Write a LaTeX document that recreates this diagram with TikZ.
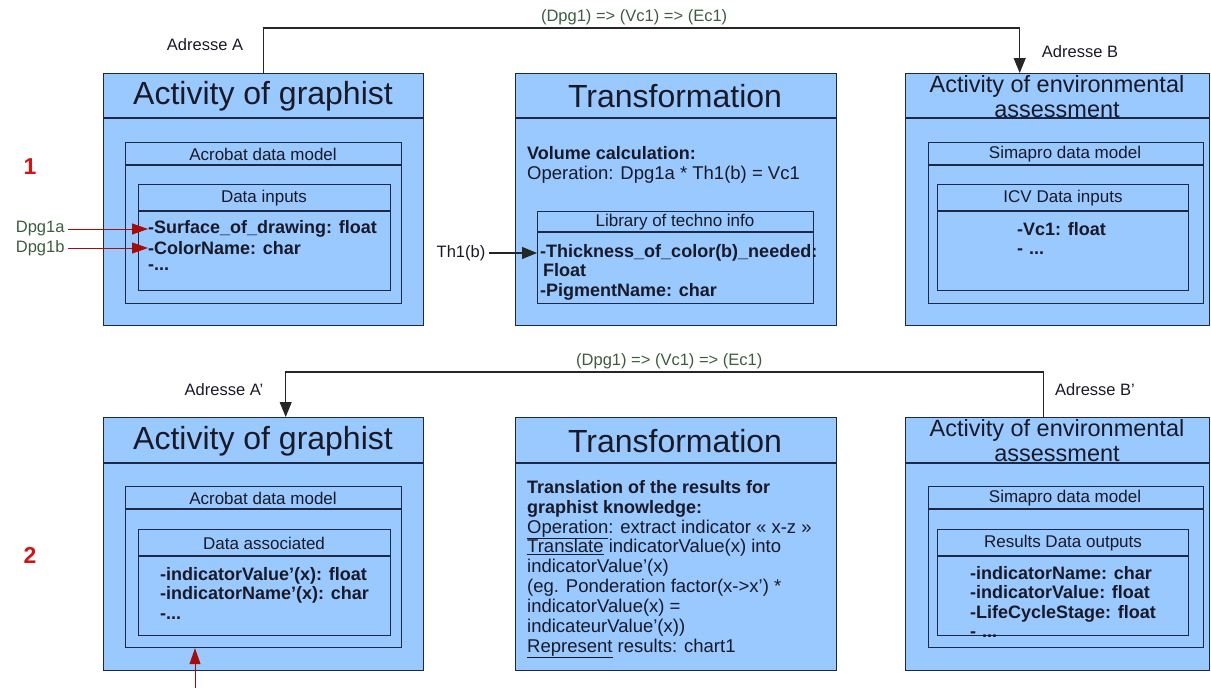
\documentclass[tikz,border=0pt]{standalone}
\usepackage{fontspec}
\setmainfont{Liberation Sans}
\usepackage{xcolor}
\usetikzlibrary{arrows.meta, positioning}

\definecolor{boxfill}{RGB}{153,201,255}
\definecolor{boxline}{RGB}{28,40,70}
\definecolor{txtdark}{RGB}{25,25,40}
\definecolor{darkred}{RGB}{165,12,12}
\definecolor{numred}{RGB}{210,20,20}
\definecolor{labgreen}{RGB}{62,92,62}

\begin{document}
\begin{tikzpicture}[
  x=1pt, y=-1pt,
  classbox/.style={rectangle, draw=boxline, fill=boxfill, line width=1.4pt, anchor=north west, inner sep=0pt},
  innerbox/.style={rectangle, draw=boxline, fill=boxfill, line width=1.2pt, anchor=north west, inner sep=0pt},
  sep/.style={draw=boxline, line width=1.2pt},
  title/.style={font=\fontsize{32}{34}\selectfont, text=txtdark},
  subtitle/.style={font=\fontsize{23.5}{25}\selectfont, align=center, text=txtdark},
  head/.style={font=\fontsize{17}{19}\selectfont, text=txtdark},
  attr/.style={font=\fontsize{18}{19.5}\selectfont\bfseries, align=left, inner sep=0pt, text=txtdark},
  body/.style={font=\fontsize{18.5}{19.9}\selectfont, align=left, anchor=north west, inner sep=0pt, text=txtdark},
  lab/.style={font=\fontsize{16.5}{18}\selectfont, text=txtdark},
  greenlab/.style={font=\fontsize{16.5}{18}\selectfont, text=labgreen},
  num/.style={font=\fontsize{23}{25}\selectfont\bfseries, text=numred},
  arrow/.style={-{Triangle[length=15pt, width=12pt]}, line width=1.1pt, draw=black!85},
  redarrow/.style={-{Triangle[length=16pt, width=11pt]}, line width=1pt, draw=darkred}
]
\useasboundingbox (0,0) rectangle (1211,688);

% ---- row 1 ----
\node[num] (n1) at (30,167) {1};

\node[classbox, minimum width=320pt, minimum height=252pt] (act1) at (103,73) {};
\draw[sep] ([yshift=-45pt]act1.north west) -- ([yshift=-45pt]act1.north east);
\node[title] at (263,96) {Activity of graphist};
\node[innerbox, minimum width=276pt, minimum height=161pt] (acro1) at (125,142) {};
\draw[sep] ([yshift=-23pt]acro1.north west) -- ([yshift=-23pt]acro1.north east);
\node[head] at (263,154) {Acrobat data model};
\node[innerbox, minimum width=252pt, minimum height=106pt] (inp1) at (138,184) {};
\draw[sep] ([yshift=-27pt]inp1.north west) -- ([yshift=-27pt]inp1.north east);
\node[head] at (264,198) {Data inputs};
\node[attr, anchor=west] (surf) at (148,229) {-Surface\_of\_drawing: float};
\node[attr, anchor=west] (colname) at (148,248) {-ColorName: char};
\node[attr, anchor=west] (more1) at (148,268) {-...};
\node[greenlab, left=80pt of surf] (dpga) {Dpg1a};
\node[greenlab, left=80pt of colname] (dpgb) {Dpg1b};

\node[classbox, minimum width=321pt, minimum height=252pt] (trans1) at (515,73) {};
\draw[sep] ([yshift=-45pt]trans1.north west) -- ([yshift=-45pt]trans1.north east);
\node[title] at (675,96) {Transformation};
\node[body] (vol) at (527,146) {\textbf{\fontsize{18}{19.9}\selectfont Volume calculation:}\\Operation: Dpg1a * Th1(b) = Vc1};
\node[innerbox, minimum width=276pt, minimum height=92pt] (lib1) at (537,211) {};
\draw[sep] ([yshift=-21pt]lib1.north west) -- ([yshift=-21pt]lib1.north east);
\node[head] at (675,222) {Library of techno info};
\node[attr, anchor=north west] (thick) at (540,244) {-Thickness\_of\_color(b)\_needed:\\\hspace{3pt}Float\\-PigmentName: char};
\node[lab] (th) at (461,253) {Th1(b)};

\node[classbox, minimum width=304pt, minimum height=252pt] (env1) at (905,73) {};
\draw[sep] ([yshift=-45pt]env1.north west) -- ([yshift=-45pt]env1.north east);
\node[subtitle] at (1057,97) {Activity of environmental\\assessment};
\node[innerbox, minimum width=275pt, minimum height=161pt] (sima1) at (928,142) {};
\draw[sep] ([yshift=-23pt]sima1.north west) -- ([yshift=-23pt]sima1.north east);
\node[head] at (1065,154) {Simapro data model};
\node[innerbox, minimum width=251pt, minimum height=106pt] (icv1) at (937,184) {};
\draw[sep] ([yshift=-27pt]icv1.north west) -- ([yshift=-27pt]icv1.north east);
\node[head] at (1063,198) {ICV Data inputs};
\node[attr, anchor=north west] (vc1) at (1017,222) {-Vc1: float\\-\hspace{6pt}...};

\node[lab] (adrA) at (205,45) {Adresse A};
\node[lab] (adrB) at (1080,52) {Adresse B};

\draw[redarrow] (dpga) -- (surf.west);
\draw[redarrow] (dpgb) -- (colname.west);
\draw[arrow] (th) -- (th -| lib1.west);
\draw[arrow] (act1.north) -- ++(0,-45) -| node[greenlab, pos=0.245, above=-1pt] {(Dpg1) => (Vc1) => (Ec1)} ([xshift=-38pt]env1.north);

% ---- row 2 ----
\node[num] (n2) at (30,555) {2};

\node[classbox, minimum width=320pt, minimum height=253pt] (act2) at (103,417) {};
\draw[sep] ([yshift=-46pt]act2.north west) -- ([yshift=-46pt]act2.north east);
\node[title] at (263,441) {Activity of graphist};
\node[innerbox, minimum width=276pt, minimum height=161pt] (acro2) at (125,486) {};
\draw[sep] ([yshift=-23pt]acro2.north west) -- ([yshift=-23pt]acro2.north east);
\node[head] at (263,498) {Acrobat data model};
\node[innerbox, minimum width=252pt, minimum height=106pt] (assoc2) at (138,529) {};
\draw[sep] ([yshift=-27pt]assoc2.north west) -- ([yshift=-27pt]assoc2.north east);
\node[head] at (264,543) {Data associated};
\node[attr, anchor=north west] (indval) at (160,567) {-indicatorValue'(x): float\\-indicatorName'(x): char\\-...};

\node[classbox, minimum width=321pt, minimum height=253pt] (trans2) at (515,417) {};
\draw[sep] ([yshift=-46pt]trans2.north west) -- ([yshift=-46pt]trans2.north east);
\node[title] at (675,441) {Transformation};
\node[body] (transl) at (527,480) {\textbf{\fontsize{18}{19.9}\selectfont Translation of the results for}\\
  \textbf{\fontsize{18}{19.9}\selectfont graphist knowledge:}\\
  \underline{Operation}: extract indicator « x-z »\\
  \underline{Translate} indicatorValue(x) into\\
  indicatorValue'(x)\\
  (eg. Ponderation factor(x->x') *\\
  indicatorValue(x) =\\
  indicateurValue'(x))\\
  \underline{Represent} results: chart1};

\node[classbox, minimum width=304pt, minimum height=253pt] (env2) at (905,417) {};
\draw[sep] ([yshift=-46pt]env2.north west) -- ([yshift=-46pt]env2.north east);
\node[subtitle] at (1057,441) {Activity of environmental\\assessment};
\node[innerbox, minimum width=275pt, minimum height=161pt] (sima2) at (928,486) {};
\draw[sep] ([yshift=-23pt]sima2.north west) -- ([yshift=-23pt]sima2.north east);
\node[head] at (1065,498) {Simapro data model};
\node[innerbox, minimum width=251pt, minimum height=106pt] (res2) at (937,529) {};
\draw[sep] ([yshift=-27pt]res2.north west) -- ([yshift=-27pt]res2.north east);
\node[head] at (1063,543) {Results Data outputs};
\node[attr, anchor=north west] (indname) at (970,566) {-indicatorName: char\\-indicatorValue: float\\-LifeCycleStage: float\\-\hspace{6pt}...};

\node[lab] (adrA2) at (224,390) {Adresse A'};
\node[lab] (adrB2) at (1095,390) {Adresse B'};

\coordinate (feed) at (195,688);
\draw[redarrow] (feed) -- (feed |- acro2.south);
\draw[arrow] ([xshift=-14pt]env2.north) -- ++(0,-45) -| node[greenlab, pos=0.247, above=-1pt] {(Dpg1) => (Vc1) => (Ec1)} ([xshift=22pt]act2.north);

\end{tikzpicture}
\end{document}
